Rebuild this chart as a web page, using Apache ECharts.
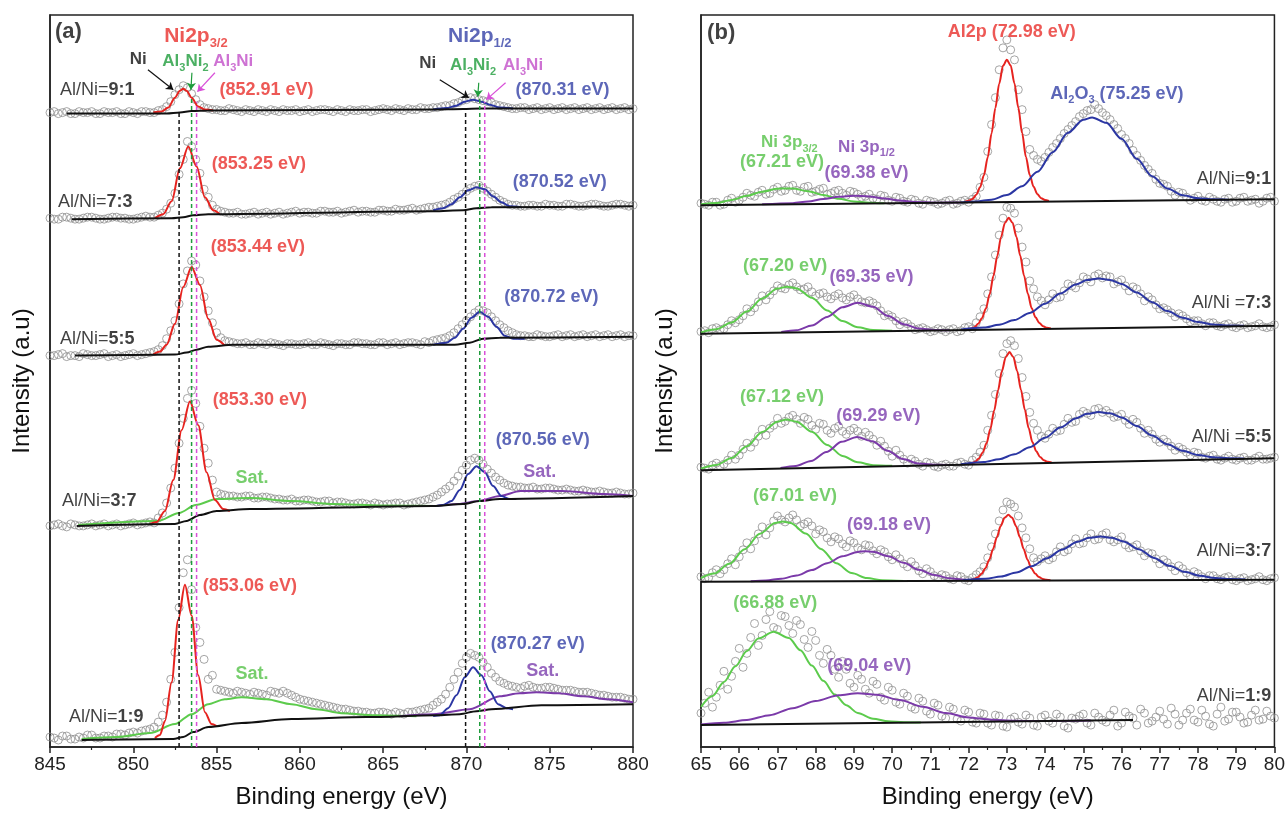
<!DOCTYPE html>
<html>
<head>
<meta charset="utf-8">
<script src="https://cdn.jsdelivr.net/npm/echarts/dist/echarts.min.js"></script>
<style>html,body{margin:0;padding:0;background:#fff}#main{width:1288px;height:814px}</style>
</head>
<body>
<div id="main"></div>
<script>
// XPS spectra: (a) Ni2p region, (b) Ni3p / Al2p region, five Al/Ni ratios stacked.
// Intensities are offset heights (arbitrary units).

// ---- (a) Ni2p : measured points, 845 -> 880 eV every 0.5 eV, plus the in-between points ----
var A_START = 845, A_STEP = 0.5;
var scatA91 = [
  637,636,638,636,637,638,636,637,638,636,
  637,638,637,639,643,655,664,656,645,641,
  640,639,640,638,639,640,638,639,640,639,
  638,640,639,640,638,639,640,639,640,639,
  641,639,640,641,640,641,642,643,644,647,
  650,651,649,647,644,642,641,642,641,640,
  642,641,640,642,641,640,642,641,640,642,
  641];
var scatA91h = [
  638,637,636,638,637,636,638,637,636,638,
  636,638,637,640,648,660,662,650,642,640,
  639,641,639,640,638,639,640,638,639,640,
  639,638,640,639,640,638,639,640,638,640,
  640,641,639,640,642,641,642,644,646,649,
  652,650,648,645,643,641,642,640,642,641,
  640,642,641,640,642,641,640,642,641,640];
var scatA73 = [
  531,530,532,530,531,532,530,531,532,531,
  530,532,532,534,540,556,590,603,576,552,
  540,537,536,535,536,535,537,536,535,537,
  536,537,536,538,537,536,538,537,538,537,
  539,538,539,540,539,541,542,544,547,552,
  558,563,561,555,549,545,544,543,544,543,
  544,543,545,544,543,545,544,543,545,544,
  544];
var scatA73h = [
  530,532,531,530,532,531,530,532,531,530,
  531,533,532,536,546,575,608,590,560,544,
  538,536,537,535,537,536,535,537,536,538,
  537,536,538,537,538,537,539,538,537,539,
  538,540,539,541,540,542,543,545,550,555,
  561,564,558,552,547,544,543,544,543,545,
  544,543,545,543,544,545,543,544,545,543];
var scatA55 = [
  393,394,392,393,395,393,394,392,394,393,
  395,394,396,399,410,428,465,488,468,438,
  416,408,406,405,404,406,404,405,403,405,
  404,406,404,405,403,405,404,406,405,404,
  406,405,404,406,405,407,408,410,413,420,
  428,436,438,432,424,418,414,413,412,413,
  412,414,413,412,414,413,412,414,413,412,
  413];
var scatA55h = [
  393,395,393,392,394,393,395,393,392,394,
  393,395,397,403,418,445,478,484,452,426,
  411,407,405,406,404,405,406,404,405,404,
  405,404,406,404,405,404,406,405,404,406,
  404,406,405,406,404,406,409,411,416,424,
  432,439,436,428,421,416,413,412,414,412,
  413,412,414,413,412,414,413,412,414,413];
var scatA37 = [
  222,224,221,223,222,224,223,222,224,223,
  225,224,226,230,245,280,330,358,322,285,
  256,253,252,251,252,250,251,249,248,249,
  247,248,246,247,245,246,244,245,244,245,
  243,244,245,244,246,248,251,256,262,272,
  283,290,284,275,268,263,261,260,261,259,
  260,258,259,257,258,256,257,255,256,254,
  255];
var scatA37h = [
  223,222,224,222,223,222,224,223,222,224,
  223,225,225,235,260,305,350,345,300,268,
  254,252,251,252,250,251,250,249,248,247,
  248,247,246,247,246,245,244,245,243,244,
  244,245,243,245,247,249,253,259,267,278,
  288,288,279,271,265,262,261,260,259,260,
  259,258,258,257,257,256,256,255,255,254];
var scatA19 = [
  10,7,11,8,9,12,9,11,13,12,
  15,16,18,25,45,95,175,158,105,68,
  58,56,54,55,53,54,52,55,56,52,
  48,46,44,42,40,38,37,36,35,34,
  35,33,34,35,36,38,42,48,60,75,
  90,92,85,74,66,62,60,61,60,59,
  60,58,57,56,55,54,52,51,50,49,
  48];
var scatA19h = [
  9,11,8,10,12,9,11,10,13,14,
  14,17,20,32,68,140,188,120,88,72,
  57,55,56,54,55,53,56,54,54,50,
  47,45,43,41,39,38,36,35,34,35,
  34,35,33,35,37,39,45,53,68,84,
  94,90,80,70,64,61,59,62,59,60,
  59,57,57,55,55,53,52,50,50,48];

// ---- (a) fitted components [eV, height] ----
var fitA91Red  = [[851.2,637],[851.7,638],[852.1,642],[852.5,652],[852.8,659],[853.0,661],[853.2,659],[853.5,652],[853.9,643],[854.3,640],[854.8,639]];
var fitA91Blue = [[868.0,640],[868.8,641.5],[869.4,644],[869.9,648],[870.4,650],[870.9,648],[871.4,645],[872.0,642],[872.8,641]];
var baseA91    = [[846,636],[852,636],[852.8,637],[853.5,638.5],[854.5,639],[868,640],[869.8,640.5],[870.8,641],[880,641]];

var fitA73Red  = [[851.3,531],[851.8,535],[852.3,548],[852.8,581],[853.3,603],[853.8,583],[854.3,552],[854.8,539],[855.2,535]];
var fitA73Blue = [[868.0,539],[868.6,541],[869.1,545],[869.6,552],[870.1,559],[870.6,562],[871.1,560],[871.6,553],[872.1,547],[872.6,543],[873.3,542]];
var baseA73    = [[846.3,530],[852.3,531],[853.0,532],[853.6,534],[854.5,535],[868.0,538],[869.8,539],[870.6,541],[871.5,542],[880,543]];

var fitA55Red  = [[851.2,394],[851.6,397],[852.0,404],[852.5,425],[853.0,462],[853.5,482],[854.0,464],[854.5,430],[855.0,409],[855.5,403]];
var fitA55Blue = [[868.0,404],[868.8,406],[869.3,411],[869.8,420],[870.3,431],[870.8,437],[871.3,432],[871.8,422],[872.3,413],[872.8,410],[873.5,410]];
var baseA55    = [[846.5,393],[852.5,394],[853.2,396],[853.8,399],[854.5,402],[856,404],[869.3,404],[870.2,406],[871.0,410],[872,411],[880,412]];

var fitA37Red  = [[851.0,224],[851.4,226],[851.9,237],[852.4,268],[852.9,318],[853.4,347],[853.9,323],[854.4,276],[854.9,248],[855.4,239],[855.8,237]];
var fitA37Sat  = [[846.7,223],[851.5,227],[852.75,235],[853.75,243],[855,249],[857,250],[859.5,247],[862,244],[865,242.5],[868.2,242]];
var fitA37Blue = [[868.2,242],[868.6,243],[869.1,247],[869.6,258],[870.1,274],[870.6,282],[871.1,276],[871.6,262],[872.1,252],[872.6,249],[873.0,249]];
var fitA37Sat2 = [[868.2,242],[869.5,244],[870.75,247],[872,252],[873.25,257],[875.75,257],[878.25,254],[880,252]];
var baseA37    = [[846.6,222],[852.5,224],[853.2,227],[854.0,233],[855.0,237],[857,239],[868,242],[869.8,244],[870.8,247],[872,249],[880,252]];

var fitA19Red  = [[851.3,9],[851.6,12],[851.9,26],[852.3,65],[852.7,128],[853.1,163],[853.5,132],[853.9,72],[854.3,35],[854.7,23],[855.0,21]];
var fitA19Sat  = [[846.9,8],[849,10],[851,14],[852.5,23],[853.5,33],[854.5,43],[855.5,48],[856.5,50],[858,48],[859.5,43],[861,38],[862.5,34],[864.5,32],[867,31]];
var fitA19Blue = [[868.0,31],[868.4,32],[868.9,39],[869.4,52],[869.9,70],[870.4,80],[870.9,72],[871.4,56],[871.9,43],[872.4,39],[872.8,38]];
var fitA19Sat2 = [[866.0,31],[868.0,33],[870.2,38],[872.0,51],[873.2,54],[874.2,55],[875.5,54],[877.0,51],[878.5,48],[880.0,45]];
var baseA19    = [[846.9,7],[852.4,8],[853.0,10],[853.6,15],[854.5,20],[856.5,24],[859.5,28],[864,30],[868.2,32],[869.6,33],[870.6,36],[871.5,38],[874.5,42],[880,43]];

// reference positions Ni / Al3Ni2 / Al3Ni (eV) and the height where each dashed line starts
var refE   = [852.75, 853.5, 853.8, 869.95, 870.8, 871.1];
var refTop = [637, 652, 648, 638, 652, 648];

// ---- (b) Ni3p / Al2p : measured points, 65 -> 80 eV every 0.2 eV, plus the in-between points ----
var B_START = 65, B_STEP = 0.2;
var scatB91 = [
  546,544,547,545,551,549,556,553,559,556,
  562,559,564,558,563,558,561,556,559,554,
  557,552,555,550,553,548,551,547,549,545,
  548,545,548,545,548,547,553,572,625,680,
  710,690,640,600,590,592,602,611,620,628,
  636,640,641,634,625,615,606,594,584,576,
  566,563,554,556,549,553,548,550,547,551,
  548,552,549,546,551,548];
var scatB91h = [
  545,547,544,549,547,552,554,557,555,560,
  558,563,559,562,557,560,555,558,556,558,
  555,553,551,554,549,552,548,550,546,549,
  547,546,549,546,549,550,562,598,652,702,
  700,660,618,594,588,597,606,616,624,633,
  639,645,637,630,621,611,599,589,580,570,
  565,558,557,552,551,549,552,548,550,547,
  551,548,550,548,552];
var scatB73 = [
  417,416,421,420,428,429,440,441,453,454,
  463,460,466,459,462,453,456,450,455,449,
  454,447,448,443,433,432,424,425,419,421,
  417,420,417,420,418,422,426,440,472,514,
  542,536,502,468,452,444,455,452,465,461,
  472,467,475,473,465,469,458,460,448,449,
  440,439,432,433,427,428,423,426,422,425,
  421,424,422,425,421,424];
var scatB73h = [
  418,420,419,424,426,433,437,447,449,458,
  461,464,462,460,457,455,452,453,451,452,
  450,446,446,438,434,428,427,422,420,419,
  418,419,419,417,421,420,432,455,494,531,
  541,521,487,460,448,449,451,458,463,466,
  470,473,471,472,467,463,462,455,452,444,
  441,436,435,430,428,425,426,423,424,422,
  423,421,423,422,422];
var scatB55 = [
  281,279,285,284,293,293,305,306,319,320,
  330,327,333,325,329,319,324,315,322,314,
  320,312,313,303,302,292,293,285,287,282,
  285,281,284,282,286,283,291,303,333,375,
  405,403,371,336,318,310,320,318,330,327,
  337,333,340,338,331,334,324,326,315,314,
  306,306,298,299,293,295,290,293,288,292,
  288,291,288,292,289,291];
var scatB55h = [
  280,283,282,288,289,299,301,312,313,323,
  325,331,329,331,323,325,318,320,317,318,
  317,316,309,307,297,298,289,289,284,286,
  282,283,282,285,284,288,296,318,354,395,
  408,390,352,325,312,314,317,324,326,334,
  335,339,336,335,332,328,329,320,318,309,
  309,302,301,296,296,291,292,289,290,289,
  290,288,290,289,290];
var scatB37 = [
  171,170,178,178,189,191,205,207,221,220,
  232,226,233,222,226,214,216,206,209,201,
  205,198,202,194,196,188,189,181,182,174,
  176,170,172,168,171,167,173,181,201,227,
  246,241,220,199,186,192,190,201,198,209,
  205,214,209,215,206,211,200,203,192,194,
  184,185,177,179,172,174,169,172,168,171,
  167,170,168,171,167,170];
var scatB37h = [
  169,175,174,184,183,198,199,214,213,227,
  228,230,228,224,222,218,210,211,204,207,
  200,203,197,198,191,193,184,186,177,179,
  172,173,169,172,168,170,176,190,214,238,
  244,232,210,190,189,188,196,196,204,204,
  210,208,213,208,208,203,201,197,195,189,
  188,181,182,175,176,171,172,169,170,168,
  169,167,169,168,169];
var scatB19 = [
  34,55,50,76,71,99,94,124,112,136,
  118,131,114,123,100,107,84,92,70,78,
  60,68,54,63,47,57,43,51,38,46,
  33,42,29,38,26,35,24,33,22,31,
  20,30,23,29,21,32,24,30,19,28,
  33,22,30,25,37,24,31,22,34,26,
  36,23,33,27,38,25,31,21,40,28,
  35,24,32,27,36,29];
var scatB19h = [
  44,40,62,58,86,80,110,102,128,120,
  132,122,127,108,116,92,98,78,86,64,
  72,58,66,50,60,45,54,40,49,36,
  44,31,40,28,37,25,34,24,32,21,
  28,25,32,22,30,26,33,21,29,31,
  24,34,27,32,21,35,29,38,24,30,
  28,39,22,34,27,37,23,33,26,35,
  30,25,37,28,31];

// ---- (b) fitted components ----
var fitB91Green  = [[65.0,545],[65.4,546.2],[65.8,549.3],[66.2,553.5],[66.6,557.6],[67.0,560.5],[67.2,560.9],[67.4,560.7],[67.8,558.1],[68.2,554.3],[68.6,550.4],[69.0,547.8],[69.4,546.6],[69.8,545.9]];
var fitB91Purple = [[66.6,544.9],[67.4,546.1],[67.8,547.7],[68.2,550.2],[68.6,552.4],[69.0,553.6],[69.4,552.8],[69.8,550.8],[70.2,548.7],[70.6,547.3],[71.2,546.6],[71.8,546.7]];
var fitB91Red    = [[71.9,547.4],[72.0,548.4],[72.1,550.2],[72.2,554.5],[72.3,562],[72.4,574],[72.5,592],[72.6,616],[72.7,641.6],[72.8,666],[72.9,684],[73.0,690],[73.1,684.3],[73.2,666.3],[73.3,642],[73.4,616.4],[73.5,592.4],[73.6,574.4],[73.7,562.5],[73.8,555.1],[73.9,551],[74.0,549.2],[74.1,548.2]];
var fitB91Blue   = [[71.8,546.7],[72.2,547.7],[72.6,549.6],[73.0,554.2],[73.4,563.1],[73.8,577.5],[74.2,597.3],[74.6,616.8],[75.0,629.8],[75.23,632.1],[75.6,626.7],[76.0,610.7],[76.4,590.6],[76.8,573.1],[77.2,560.9],[77.6,554],[78.0,551],[78.4,549.9],[78.8,549.5]];
var baseB91      = [[65,544],[80,550]];

var fitB73Green  = [[65.0,416.3],[65.4,419.5],[65.8,426.2],[66.2,437.2],[66.6,450.4],[67.0,460.3],[67.25,462.2],[67.5,460.5],[67.9,451.0],[68.3,438.3],[68.7,427.7],[69.1,421.4],[69.5,418.6],[70.0,417.9]];
var fitB73Purple = [[67.1,416.6],[67.5,418.4],[67.9,423.2],[68.3,431.8],[68.7,441.6],[69.1,446.1],[69.5,442],[69.9,432.7],[70.3,424.6],[70.7,420.1],[71.1,418.8],[71.5,418.5]];
var fitB73Red    = [[71.95,419.1],[72.05,419.9],[72.15,421.5],[72.25,424.9],[72.35,430.8],[72.45,440],[72.55,454.5],[72.65,473.1],[72.75,493.1],[72.85,512.2],[72.95,526.2],[73.05,531.3],[73.15,526.3],[73.25,512.4],[73.35,493.4],[73.45,473.5],[73.55,455],[73.65,440.6],[73.75,431.5],[73.85,425.7],[73.95,422.4],[74.05,420.9],[74.15,420.2]];
var fitB73Blue   = [[71.8,419.2],[72.4,421.1],[72.8,424],[73.2,428.7],[73.6,435.8],[74.0,445.1],[74.4,455.3],[74.8,464.3],[75.1,468.8],[75.4,470.5],[75.7,469],[76.0,465],[76.4,456.4],[76.8,446.6],[77.2,437.7],[77.6,431],[78.0,426.7],[78.4,424.3],[78.8,423.2],[79.2,422.9]];
var baseB73      = [[65,415],[80,423]];

var fitB55Green  = [[65.0,279.5],[65.4,283.1],[65.8,290.2],[66.2,302],[66.6,316.3],[67.0,326.6],[67.24,328.8],[67.5,326.6],[67.9,316.6],[68.3,303.3],[68.7,292.3],[69.1,285.9],[69.5,283],[70.0,282.3]];
var fitB55Purple = [[67.08,280.2],[67.48,282.2],[67.88,287.2],[68.28,296.2],[68.68,306.4],[69.08,311.3],[69.48,307.1],[69.88,297.5],[70.28,289.1],[70.68,284.7],[71.08,283.4],[71.5,283.2]];
var fitB55Red    = [[71.97,284],[72.07,284.8],[72.17,286.4],[72.27,289.8],[72.37,295.8],[72.47,305],[72.57,319.6],[72.67,338.1],[72.77,358.2],[72.87,377.3],[72.97,391.4],[73.07,396.5],[73.17,391.5],[73.27,377.6],[73.37,358.7],[73.47,338.8],[73.57,320.4],[73.67,305.9],[73.77,296.9],[73.87,291.1],[73.97,287.9],[74.07,286.4],[74.17,285.7]];
var fitB55Blue   = [[71.8,284],[72.4,286.1],[72.8,289],[73.2,293.9],[73.6,301.1],[74.0,310.5],[74.4,320.8],[74.8,329.9],[75.1,334.5],[75.4,336.3],[75.7,335],[76.0,330.9],[76.4,322.4],[76.8,312.7],[77.2,304],[77.6,297.4],[78.0,293.2],[78.4,290.9],[78.8,289.9],[79.2,289.7]];
var baseB55      = [[65,278],[80,290]];

var fitB37Green  = [[65.0,169.6],[65.34,174.1],[65.74,184],[66.14,198.5],[66.54,214.2],[66.94,224.9],[67.14,226.3],[67.34,224.9],[67.74,214.4],[68.14,198.8],[68.54,184.4],[68.94,174.6],[69.34,169.6],[69.74,167.5],[70.3,166.7]];
var fitB37Purple = [[66.3,166.5],[66.7,167.2],[67.1,169],[67.5,172.2],[67.9,177.6],[68.3,184.6],[68.7,191.5],[69.1,195.9],[69.3,196.6],[69.5,196],[69.9,191.6],[70.3,184.9],[70.7,177.9],[71.1,172.7],[71.5,169.5],[71.9,167.9],[72.3,167.3]];
var fitB37Red    = [[71.94,167.2],[72.04,167.6],[72.14,168.6],[72.24,170.5],[72.34,174],[72.44,179.5],[72.54,188],[72.64,198.8],[72.74,210.8],[72.84,222],[72.94,230.1],[73.04,233.1],[73.14,230.1],[73.24,222],[73.34,210.8],[73.44,198.8],[73.54,188.1],[73.64,179.6],[73.74,174.1],[73.84,170.6],[73.94,168.7],[74.04,167.9],[74.14,167.4]];
var fitB37Blue   = [[71.85,167.4],[72.45,168.9],[72.85,171.2],[73.25,175.3],[73.65,181.4],[74.05,189.5],[74.45,198.3],[74.85,206.1],[75.15,210],[75.45,211.4],[75.75,210],[76.05,206.3],[76.45,198.6],[76.85,189.9],[77.25,181.9],[77.65,175.9],[78.05,171.9],[78.45,169.7],[78.85,168.6],[79.25,168.2]];
var baseB37      = [[65,166],[80,168]];

var fitB19Green  = [[65.0,40.2],[65.3,51.1],[65.6,65.3],[65.9,81],[66.2,96.5],[66.5,109],[66.9,115.8],[67.3,109.4],[67.6,97.1],[67.9,81.8],[68.2,66.4],[68.5,52.6],[68.8,41.9],[69.1,34.2],[69.5,28.4],[69.9,25.8],[70.3,24.8],[70.75,24.5]];
var fitB19Purple = [[65.0,22.7],[65.6,24.3],[66.2,27.1],[66.8,32],[67.4,39],[68.0,46.2],[68.6,52],[69.1,53.9],[69.6,52.5],[70.2,47.2],[70.8,40.5],[71.4,34.1],[72.0,29.7],[72.6,27.4],[73.2,26.4],[73.8,26],[75.2,26.6]];
var baseB19      = [[65,22],[76.3,27]];

// ---- styling ----
var FONT = '"Liberation Sans", Arial, sans-serif';
var RED = '#e6231f', BLUE = '#2b36a3', GREEN = '#5ccb4c', PURPLE = '#7b3aa9';
var MAGENTA = '#d84fd8', DKGREEN = '#1f9c3c', BLACK = '#111111';
var RED_T = '#e8302c', BLUE_T = '#3441a6', GREEN_T = '#55c248', PURPLE_T = '#7c40ae', PINK_T = '#c24fc8';

function scat(gi, start, step, vals) {
  return {
    type: 'scatter', xAxisIndex: gi, yAxisIndex: gi, symbol: 'circle', symbolSize: 8,
    itemStyle: {color: 'rgba(255,255,255,0)', borderColor: '#8f8f8f', borderWidth: 1},
    data: vals.map(function (v, i) { return [+(start + i * step).toFixed(2), v]; }),
    z: 1, silent: true
  };
}
function curve(gi, pts, color, w) {
  return {
    type: 'line', xAxisIndex: gi, yAxisIndex: gi, data: pts, smooth: 0.3, smoothMonotone: 'x',
    showSymbol: false, symbol: 'none', lineStyle: {color: color, width: w || 2}, z: 3, silent: true
  };
}
function richFor(color, size, weight) {
  var sub = Math.round(size * 0.62);
  return {
    r: {color: color, fontSize: size, fontFamily: FONT, fontWeight: 'normal'},
    k: {color: color, fontSize: size, fontFamily: FONT, fontWeight: 'bold'},
    m: {color: color, fontSize: size, fontFamily: FONT, fontWeight: weight, lineHeight: size + 2, verticalAlign: 'top'},
    s: {color: color, fontSize: sub, fontFamily: FONT, fontWeight: weight, lineHeight: sub + 2, verticalAlign: 'top',
        padding: [Math.round(size * 0.55), 0, 0, 0]}
  };
}
function note(text, at, color, size, weight, pos) {
  weight = weight || 'bold';
  return {
    value: at,
    label: {show: true, formatter: text, position: pos || 'inside', distance: 0, color: color,
            fontSize: size, fontWeight: weight, fontFamily: FONT, rich: richFor(color, size, weight)}
  };
}

var notesA = [
  note('(a)', [845.3, 718], BLACK, 22, 'bold', 'right'),
  note('{m|Ni2p}{s|3/2}', [853.76, 713], RED_T, 21, 'bold'),
  note('{m|Ni2p}{s|1/2}', [870.8, 713], BLUE_T, 21, 'bold'),
  note('{m|Ni}', [850.3, 689], BLACK, 17),
  note('{m|Al}{s|3}{m|Ni}{s|2}', [853.13, 687], DKGREEN, 17),
  note('{m|Al}{s|3}{m|Ni}', [856.0, 687], PINK_T, 17),
  note('{m|Ni}', [867.68, 685], BLACK, 17),
  note('{m|Al}{s|3}{m|Ni}{s|2}', [870.4, 683], DKGREEN, 17),
  note('{m|Al}{s|3}{m|Ni}', [873.4, 683], PINK_T, 17),
  note('(852.91 eV)', [858.0, 660], RED_T, 18),
  note('(870.31 eV)', [875.77, 660], BLUE_T, 18),
  note('{r|Al/Ni=}{k|9:1}', [845.6, 660], BLACK, 18, 'normal', 'right'),
  note('(853.25 eV)', [857.54, 585], RED_T, 18),
  note('(870.52 eV)', [875.6, 567], BLUE_T, 18),
  note('{r|Al/Ni=}{k|7:3}', [845.48, 547], BLACK, 18, 'normal', 'right'),
  note('(853.44 eV)', [857.48, 502], RED_T, 18),
  note('(870.72 eV)', [875.1, 452], BLUE_T, 18),
  note('{r|Al/Ni=}{k|5:5}', [845.6, 410], BLACK, 18, 'normal', 'right'),
  note('(853.30 eV)', [857.6, 348], RED_T, 18),
  note('(870.56 eV)', [874.58, 308], BLUE_T, 18),
  note('Sat.', [857.12, 270], GREEN_T, 18),
  note('Sat.', [874.4, 276], PURPLE_T, 18),
  note('{r|Al/Ni=}{k|3:7}', [845.72, 247], BLACK, 18, 'normal', 'right'),
  note('(853.06 eV)', [857.0, 162], RED_T, 18),
  note('Sat.', [857.12, 73], GREEN_T, 18),
  note('(870.27 eV)', [874.28, 103], BLUE_T, 18),
  note('Sat.', [874.58, 76], PURPLE_T, 18),
  note('{r|Al/Ni=}{k|1:9}', [846.14, 30], BLACK, 18, 'normal', 'right')
];
var notesB = [
  note('(b)', [65.16, 717], BLACK, 22, 'bold', 'right'),
  note('Al2p (72.98 eV)', [73.13, 718], RED_T, 18),
  note('{m|Al}{s|2}{m|O}{s|3}{m| (75.25 eV)}', [75.88, 655], BLUE_T, 18),
  note('{m|Ni 3p}{s|3/2}', [67.31, 606], GREEN_T, 17),
  note('(67.21 eV)', [67.12, 587], GREEN_T, 18),
  note('{m|Ni 3p}{s|1/2}', [69.33, 601], PURPLE_T, 17),
  note('(69.38 eV)', [69.33, 576], PURPLE_T, 18),
  note('{r|Al/Ni=}{k|9:1}', [79.92, 570], BLACK, 18, 'normal', 'left'),
  note('(67.20 eV)', [67.2, 483], GREEN_T, 18),
  note('(69.35 eV)', [69.46, 472], PURPLE_T, 18),
  note('{r|Al/Ni =}{k|7:3}', [79.92, 446], BLACK, 18, 'normal', 'left'),
  note('(67.12 eV)', [67.12, 351], GREEN_T, 18),
  note('(69.29 eV)', [69.64, 332], PURPLE_T, 18),
  note('{r|Al/Ni =}{k|5:5}', [79.92, 311], BLACK, 18, 'normal', 'left'),
  note('(67.01 eV)', [67.46, 252], GREEN_T, 18),
  note('(69.18 eV)', [69.92, 223], PURPLE_T, 18),
  note('{r|Al/Ni=}{k|3:7}', [79.92, 197], BLACK, 18, 'normal', 'left'),
  note('(66.88 eV)', [66.94, 145], GREEN_T, 18),
  note('(69.04 eV)', [69.4, 81], PURPLE_T, 18),
  note('{r|Al/Ni=}{k|1:9}', [79.92, 51], BLACK, 18, 'normal', 'left')
];

var series = [];
var specA = [
  [scatA91, [[fitA91Red, RED], [fitA91Blue, BLUE]], baseA91, scatA91h],
  [scatA73, [[fitA73Red, RED], [fitA73Blue, BLUE]], baseA73, scatA73h],
  [scatA55, [[fitA55Red, RED], [fitA55Blue, BLUE]], baseA55, scatA55h],
  [scatA37, [[fitA37Sat, GREEN], [fitA37Sat2, PURPLE], [fitA37Red, RED], [fitA37Blue, BLUE]], baseA37, scatA37h],
  [scatA19, [[fitA19Sat, GREEN], [fitA19Sat2, PURPLE], [fitA19Red, RED], [fitA19Blue, BLUE]], baseA19, scatA19h]
];
var specB = [
  [scatB91, [[fitB91Green, GREEN], [fitB91Purple, PURPLE], [fitB91Red, RED], [fitB91Blue, BLUE]], baseB91, scatB91h],
  [scatB73, [[fitB73Green, GREEN], [fitB73Purple, PURPLE], [fitB73Red, RED], [fitB73Blue, BLUE]], baseB73, scatB73h],
  [scatB55, [[fitB55Green, GREEN], [fitB55Purple, PURPLE], [fitB55Red, RED], [fitB55Blue, BLUE]], baseB55, scatB55h],
  [scatB37, [[fitB37Green, GREEN], [fitB37Purple, PURPLE], [fitB37Red, RED], [fitB37Blue, BLUE]], baseB37, scatB37h],
  [scatB19, [[fitB19Green, GREEN], [fitB19Purple, PURPLE]], baseB19, scatB19h]
];
specA.forEach(function (s) {
  series.push(scat(0, A_START, A_STEP, s[0]));
  series.push(scat(0, A_START + A_STEP / 2, A_STEP, s[3]));
});
specB.forEach(function (s) {
  series.push(scat(1, B_START, B_STEP, s[0]));
  series.push(scat(1, B_START + B_STEP / 2, B_STEP, s[3]));
});
specA.forEach(function (s) {
  s[1].forEach(function (f) { series.push(curve(0, f[0], f[1])); });
  series.push(curve(0, s[2], BLACK));
});
specB.forEach(function (s) {
  s[1].forEach(function (f) { series.push(curve(1, f[0], f[1])); });
  series.push(curve(1, s[2], BLACK));
});

// dashed reference lines for Ni / Al3Ni2 / Al3Ni
var refColors = [BLACK, DKGREEN, MAGENTA, BLACK, DKGREEN, MAGENTA];
refE.forEach(function (e, i) {
  series.push({
    type: 'line', xAxisIndex: 0, yAxisIndex: 0, data: [[e, 0], [e, refTop[i]]],
    showSymbol: false, symbol: 'none', silent: true, z: 4,
    lineStyle: {color: refColors[i], width: 1.5, type: [4, 3]}
  });
});
// arrows from the phase labels to the peaks
function arrow(from, to, color) {
  return [{coord: from, lineStyle: {color: color, width: 1.2, type: 'solid'}}, {coord: to}];
}
series[series.length - 1].markLine = {
  silent: true, animation: false, symbol: ['none', 'arrow'], symbolSize: 7, label: {show: false},
  data: [
    arrow([850.88, 680], [852.4, 660], BLACK),
    arrow([853.52, 677], [853.46, 660], DKGREEN),
    arrow([854.9, 677], [853.85, 658], MAGENTA),
    arrow([868.4, 670], [870.14, 652], BLACK),
    arrow([870.74, 667], [870.68, 653], DKGREEN),
    arrow([872.35, 667], [871.2, 650], MAGENTA)
  ]
};
series.push({type: 'scatter', xAxisIndex: 0, yAxisIndex: 0, symbolSize: 0, data: notesA, z: 10, silent: true, clip: false});
series.push({type: 'scatter', xAxisIndex: 1, yAxisIndex: 1, symbolSize: 0, data: notesB, z: 10, silent: true, clip: false});

function xAxis(gi, min, max, step) {
  return {
    gridIndex: gi, type: 'value', min: min, max: max, interval: step,
    axisLine: {lineStyle: {color: '#222', width: 1.5}},
    axisTick: {inside: false, length: 6, lineStyle: {color: '#222', width: 1.5}},
    minorTick: {show: true, splitNumber: 2, length: 3, lineStyle: {color: '#222', width: 1.2}},
    axisLabel: {fontSize: 19, color: '#222', margin: 8, fontFamily: FONT},
    splitLine: {show: false}, minorSplitLine: {show: false},
    name: 'Binding energy (eV)', nameLocation: 'middle', nameGap: 38,
    nameTextStyle: {fontSize: 24, color: '#111', fontFamily: FONT}
  };
}
function yAxis(gi, gap) {
  return {
    gridIndex: gi, type: 'value', min: 0, max: 735,
    axisLine: {show: true, lineStyle: {color: '#222', width: 1.5}},
    axisTick: {show: false}, axisLabel: {show: false}, splitLine: {show: false},
    name: 'Intensity (a.u)', nameLocation: 'middle', nameGap: gap,
    nameTextStyle: {fontSize: 24, color: '#111', fontFamily: FONT}
  };
}

var myChart = echarts.init(document.getElementById('main'));
myChart.setOption({
  backgroundColor: '#ffffff',
  animation: false,
  grid: [
    {left: 50, right: 655, top: 15, bottom: 64, show: true, borderColor: '#222', borderWidth: 1.5},
    {left: 701, right: 8, top: 15, bottom: 64, show: true, borderColor: '#222', borderWidth: 1.5}
  ],
  xAxis: [xAxis(0, 845, 880, 5), xAxis(1, 65, 80, 1)],
  yAxis: [yAxis(0, 16), yAxis(1, 24)],
  series: series
});
</script>
</body>
</html>
